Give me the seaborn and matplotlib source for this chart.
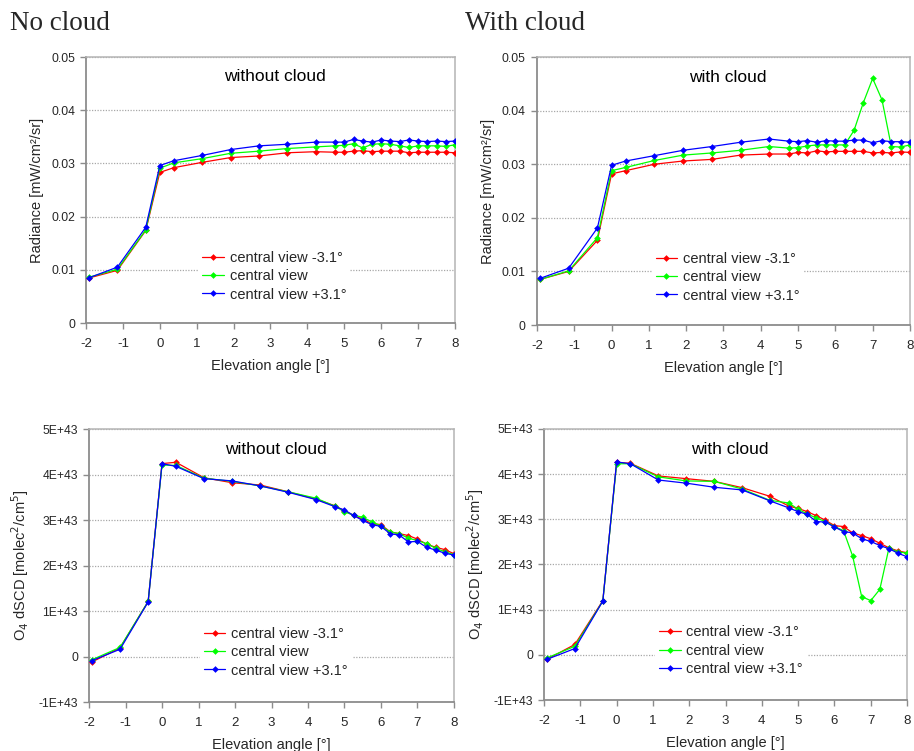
import numpy as np
import pandas as pd
import matplotlib
matplotlib.use("Agg")
import matplotlib.pyplot as plt
from matplotlib.lines import Line2D
import seaborn as sns

# Elevation angles of the scan [deg]
angles = [-1.92, -1.15, -0.38, 0.0, 0.38, 1.15, 1.92, 2.69, 3.46, 4.22,
          4.75, 5.0, 5.25, 5.5, 5.75, 6.0, 6.25, 6.5, 6.75, 7.0, 7.25, 7.5, 7.75, 8.0]

series_names = ["central view -3.1°", "central view", "central view +3.1°"]
series_colors = ["#ff0000", "#00ff00", "#0000ff"]

# Radiance [mW/cm²/sr], no cloud
rad_nc_minus = [0.00846, 0.0099, 0.0174, 0.0283, 0.0292, 0.0302, 0.0311, 0.0314, 0.0320, 0.0322,
                0.0321, 0.0321, 0.0323, 0.0324, 0.0322, 0.0323, 0.0323, 0.0323, 0.0320, 0.0321,
                0.0321, 0.0321, 0.0321, 0.0320]
rad_nc_center = [0.0086, 0.0101, 0.0175, 0.0291, 0.0301, 0.0309, 0.0319, 0.0323, 0.0328, 0.0331,
                 0.0333, 0.0334, 0.0337, 0.0329, 0.0336, 0.0337, 0.0336, 0.0333, 0.0330, 0.0333,
                 0.0333, 0.0333, 0.0332, 0.0335]
rad_nc_plus = [0.0085, 0.0105, 0.0180, 0.0296, 0.0305, 0.0315, 0.0326, 0.0333, 0.0336, 0.0340,
               0.0340, 0.0340, 0.0345, 0.0342, 0.0340, 0.0344, 0.0342, 0.0341, 0.0344, 0.0342,
               0.0341, 0.0342, 0.0341, 0.0342]

# Radiance [mW/cm²/sr], with cloud
rad_wc_minus = [0.0085, 0.0100, 0.0158, 0.0282, 0.0288, 0.0300, 0.0306, 0.0309, 0.0317, 0.0319,
                0.0319, 0.0322, 0.0321, 0.0325, 0.0323, 0.0324, 0.0324, 0.0324, 0.0324, 0.0321,
                0.0322, 0.0321, 0.0323, 0.0322]
rad_wc_center = [0.0085, 0.0101, 0.0163, 0.0288, 0.0294, 0.0307, 0.0317, 0.0321, 0.0326, 0.0333,
                 0.0330, 0.0331, 0.0334, 0.0336, 0.0336, 0.0336, 0.0336, 0.0363, 0.0415, 0.0460,
                 0.0420, 0.0333, 0.0332, 0.0336]
rad_wc_plus = [0.0087, 0.0106, 0.0181, 0.0298, 0.0306, 0.0316, 0.0326, 0.0333, 0.0341, 0.0347,
               0.0343, 0.0342, 0.0344, 0.0341, 0.0344, 0.0343, 0.0343, 0.0345, 0.0345, 0.0340,
               0.0344, 0.0342, 0.0342, 0.0341]

# O4 dSCD [1E+43 molec²/cm⁵], no cloud
o4_nc_minus = [-0.12, 0.19, 1.21, 4.24, 4.27, 3.93, 3.82, 3.77, 3.62, 3.46,
               3.31, 3.20, 3.10, 3.02, 2.92, 2.90, 2.74, 2.70, 2.66, 2.58,
               2.47, 2.40, 2.35, 2.26]
o4_nc_center = [-0.07, 0.20, 1.21, 4.21, 4.20, 3.92, 3.85, 3.75, 3.62, 3.48,
                3.30, 3.18, 3.11, 3.06, 2.96, 2.87, 2.74, 2.70, 2.60, 2.55,
                2.48, 2.38, 2.30, 2.24]
o4_nc_plus = [-0.09, 0.16, 1.20, 4.24, 4.18, 3.91, 3.86, 3.75, 3.61, 3.45,
              3.29, 3.22, 3.10, 2.99, 2.90, 2.86, 2.70, 2.67, 2.52, 2.53,
              2.40, 2.34, 2.27, 2.23]

# O4 dSCD [1E+43 molec²/cm⁵], with cloud
o4_wc_minus = [-0.10, 0.23, 1.20, 4.26, 4.24, 3.96, 3.90, 3.84, 3.70, 3.51,
               3.29, 3.24, 3.17, 3.08, 2.98, 2.86, 2.84, 2.70, 2.64, 2.57,
               2.47, 2.37, 2.30, 2.26]
o4_wc_center = [-0.07, 0.19, 1.19, 4.23, 4.23, 3.94, 3.85, 3.84, 3.67, 3.42,
                3.36, 3.22, 3.12, 3.03, 2.95, 2.84, 2.75, 2.19, 1.29, 1.20,
                1.45, 2.36, 2.28, 2.25]
o4_wc_plus = [-0.10, 0.14, 1.19, 4.27, 4.23, 3.87, 3.80, 3.71, 3.65, 3.41,
              3.25, 3.17, 3.11, 2.95, 2.94, 2.83, 2.73, 2.70, 2.57, 2.51,
              2.42, 2.35, 2.25, 2.17]
O4_UNIT = 1e43

x_ticks = [-2, -1, 0, 1, 2, 3, 4, 5, 6, 7, 8]
rad_ticks = [0, 0.01, 0.02, 0.03, 0.04, 0.05]
rad_tick_labels = ["0", "0.01", "0.02", "0.03", "0.04", "0.05"]
o4_ticks = [-1e43, 0, 1e43, 2e43, 3e43, 4e43, 5e43]
o4_tick_labels = ["-1E+43", "0", "1E+43", "2E+43", "3E+43", "4E+43", "5E+43"]

sns.set_theme(style="white")
plt.rcParams["font.family"] = ["Liberation Sans", "DejaVu Sans"]

fig = plt.figure(figsize=(9.14, 7.51), dpi=100)

panels = [
    # (rect, series, scale, inner title, ylabel, yticks, ylabels, legend anchor)
    ([0.0941, 0.5699, 0.4037, 0.3542], [rad_nc_minus, rad_nc_center, rad_nc_plus], 1.0,
     "without cloud", "Radiance [mW/cm²/sr]", rad_ticks, rad_tick_labels, (0.304, 0.285)),
    ([0.5875, 0.5672, 0.4081, 0.3569], [rad_wc_minus, rad_wc_center, rad_wc_plus], 1.0,
     "with cloud", "Radiance [mW/cm²/sr]", rad_ticks, rad_tick_labels, (0.308, 0.287)),
    ([0.0974, 0.0652, 0.3993, 0.3635], [o4_nc_minus, o4_nc_center, o4_nc_plus], O4_UNIT,
     "without cloud", "O$_4$ dSCD [molec$^2$/cm$^5$]", o4_ticks, o4_tick_labels, (0.304, 0.289)),
    ([0.5952, 0.0679, 0.3972, 0.3609], [o4_wc_minus, o4_wc_center, o4_wc_plus], O4_UNIT,
     "with cloud", "O$_4$ dSCD [molec$^2$/cm$^5$]", o4_ticks, o4_tick_labels, (0.306, 0.289)),
]

for rect, values, scale, title, ylabel, yticks, ylabels, anchor in panels:
    ax = fig.add_axes(rect)
    frames = []
    for name, vals in zip(series_names, values):
        frames.append(pd.DataFrame({"angle": angles,
                                    "value": np.asarray(vals) * scale,
                                    "series": name}))
    df = pd.concat(frames, ignore_index=True)
    sns.lineplot(data=df, x="angle", y="value", hue="series", hue_order=series_names,
                 palette=series_colors, marker="D", markersize=3.4, markeredgewidth=0,
                 linewidth=0.9, legend=False, ax=ax, zorder=3)

    ax.set_xlim(-2, 8)
    ax.set_ylim(yticks[0], yticks[-1])
    ax.set_xticks(x_ticks)
    ax.set_xticklabels([str(t) for t in x_ticks])
    ax.set_yticks(yticks)
    ax.set_yticklabels(ylabels)

    ax.yaxis.grid(True, linestyle=(0, (1, 1.2)), color="#a8a8a8", linewidth=0.9, zorder=0)
    ax.xaxis.grid(False)
    for side in ("left", "bottom"):
        ax.spines[side].set_color("#8c8c8c")
        ax.spines[side].set_linewidth(1.3)
    for side in ("top", "right"):
        ax.spines[side].set_color("#b4b4b4")
        ax.spines[side].set_linewidth(1.1)

    ax.tick_params(axis="x", direction="out", length=4, width=1, color="#8c8c8c",
                   labelsize=9.5, pad=7, bottom=True)
    ax.tick_params(axis="y", direction="out", length=4, width=1, color="#8c8c8c",
                   labelsize=8.7, pad=4, left=True)

    ax.set_xlabel("Elevation angle [°]", fontsize=10.5, labelpad=6)
    ax.set_ylabel(ylabel, fontsize=10.5, labelpad=5)
    ax.text(0.511, 0.925, title, transform=ax.transAxes, ha="center", va="center",
            fontsize=12.5, color="black")

    handles = [Line2D([0], [0], color=c, lw=0.9, marker="D", markersize=3.4,
                      markeredgewidth=0) for c in series_colors]
    leg = ax.legend(handles, series_names, loc="upper left", bbox_to_anchor=anchor,
                    frameon=True, fontsize=10.5, handlelength=1.5, handletextpad=0.4,
                    labelspacing=0.3, borderpad=0.25, borderaxespad=0)
    leg.get_frame().set_facecolor("white")
    leg.get_frame().set_edgecolor("none")
    leg.get_frame().set_alpha(1.0)
    leg.set_zorder(2)

fig.text(10 / 914, 1 - 24 / 751, "No cloud", family="Liberation Serif",
         fontsize=19.5, va="center", ha="left")
fig.text(465 / 914, 1 - 24 / 751, "With cloud", family="Liberation Serif",
         fontsize=19.5, va="center", ha="left")

fig.savefig("out.png", dpi=100, facecolor="white")
